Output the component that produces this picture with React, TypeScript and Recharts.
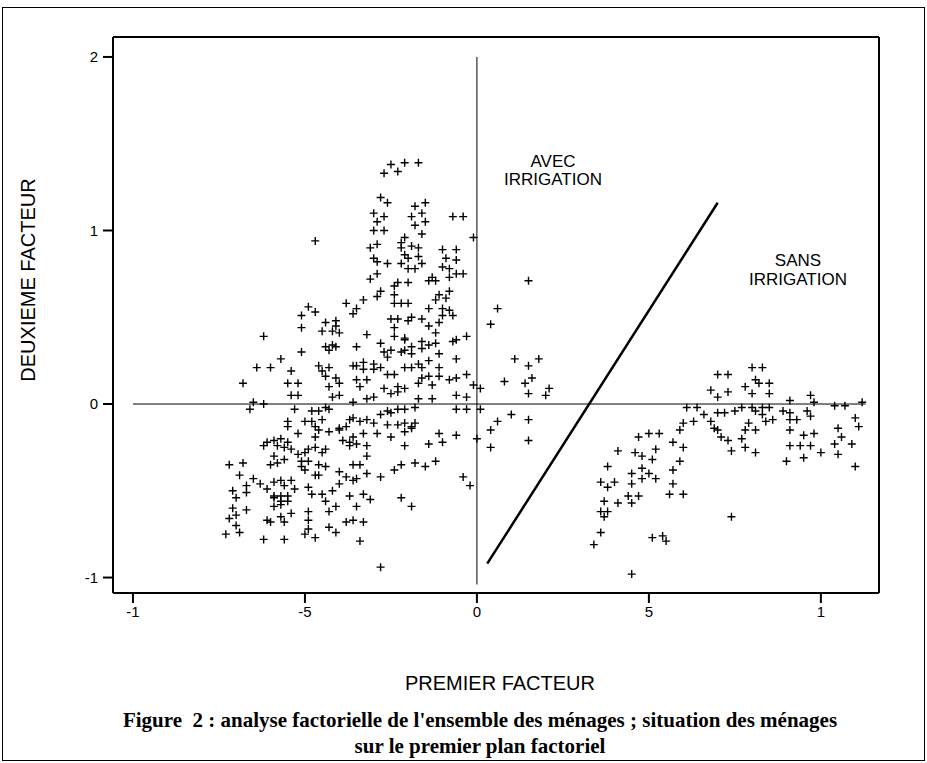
import React from 'react';
import { ScatterChart, Scatter, XAxis, YAxis, ReferenceLine } from 'recharts';

// ticks of the two axes, and the way they are printed on the figure
const xTicks = [-1, -0.5, 0, 0.5, 1];
const xTickLabels = ['-1', '-5', '0', '5', '1'];
const yTicks = [-1, 0, 1, 2];
const yTickLabels = ['-1', '0', '1', '2'];

// menages avec irrigation, haut du nuage
const avecHaut: [number, number][] = [
  [-0.27, 1.33], [-0.25, 1.38], [-0.23, 1.34], [-0.21, 1.39], [-0.17, 1.39],
  [-0.28, 1.19], [-0.26, 1.16], [-0.30, 1.10], [-0.27, 1.08], [-0.29, 1.05], [-0.30, 1.00], [-0.27, 1.00],
  [-0.18, 1.14], [-0.15, 1.16], [-0.19, 1.08], [-0.16, 1.10], [-0.18, 1.03], [-0.15, 1.05], [-0.16, 0.98],
  [-0.07, 1.08], [-0.04, 1.08], [-0.01, 0.96], [-0.47, 0.94],
  [-0.31, 0.90], [-0.29, 0.92], [-0.30, 0.84], [-0.29, 0.82], [-0.26, 0.81], [-0.22, 0.93], [-0.21, 0.96],
  [-0.22, 0.90], [-0.21, 0.86], [-0.20, 0.84], [-0.19, 0.91], [-0.17, 0.90], [-0.17, 0.85], [-0.22, 0.81],
  [-0.20, 0.78], [-0.18, 0.78], [-0.16, 0.81],
  [-0.10, 0.89], [-0.06, 0.89], [-0.09, 0.84], [-0.06, 0.83], [-0.10, 0.79], [-0.08, 0.78], [-0.06, 0.75],
  [-0.04, 0.75], [-0.08, 0.73], [-0.13, 0.73], [-0.12, 0.71], [-0.14, 0.71], [-0.31, 0.72], [-0.29, 0.75],
  [-0.23, 0.70], [-0.20, 0.70], [-0.24, 0.68],
];

// menages avec irrigation, coeur du nuage
const avecCentre: [number, number][] = [
  [-0.28, 0.65], [-0.24, 0.63], [-0.29, 0.62],
  [-0.11, 0.63], [-0.08, 0.65], [-0.09, 0.61], [-0.12, 0.60],
  [-0.38, 0.58], [-0.33, 0.60], [-0.35, 0.55], [-0.36, 0.52],
  [-0.24, 0.58], [-0.22, 0.58], [-0.20, 0.58],
  [-0.49, 0.56], [-0.51, 0.51], [-0.47, 0.53], [-0.51, 0.44],
  [-0.14, 0.55], [-0.10, 0.55], [-0.08, 0.54], [-0.07, 0.51], [-0.10, 0.51],
  [-0.25, 0.49], [-0.23, 0.49], [-0.19, 0.50], [-0.16, 0.49], [-0.20, 0.48], [-0.24, 0.44],
  [-0.14, 0.45], [-0.11, 0.47], [-0.12, 0.41],
  [-0.44, 0.47], [-0.41, 0.48], [-0.45, 0.42], [-0.42, 0.42], [-0.40, 0.41], [-0.41, 0.45],
  [-0.32, 0.40], [-0.24, 0.39], [-0.21, 0.38], [-0.21, 0.37],
  [-0.62, 0.39],
  [-0.07, 0.36], [-0.03, 0.39], [-0.06, 0.37],
  [-0.35, 0.33], [-0.28, 0.35], [-0.27, 0.30], [-0.25, 0.31], [-0.26, 0.27], [-0.22, 0.30], [-0.21, 0.31],
  [-0.19, 0.33], [-0.19, 0.29], [-0.16, 0.36], [-0.16, 0.32], [-0.14, 0.34], [-0.12, 0.35], [-0.11, 0.29], [-0.14, 0.25],
  [-0.44, 0.33], [-0.42, 0.34], [-0.43, 0.31], [-0.41, 0.33],
  [-0.51, 0.30], [-0.57, 0.26], [-0.64, 0.21], [-0.60, 0.21],
  [-0.54, 0.19], [-0.55, 0.12], [-0.52, 0.12], [-0.54, 0.05], [-0.52, 0.05],
  [-0.68, 0.12],
  [-0.46, 0.22], [-0.43, 0.21], [-0.45, 0.19], [-0.44, 0.16], [-0.41, 0.15], [-0.43, 0.10], [-0.40, 0.12],
  [-0.36, 0.22], [-0.35, 0.22], [-0.33, 0.24], [-0.33, 0.20], [-0.30, 0.23], [-0.28, 0.21], [-0.30, 0.20],
  [-0.26, 0.17], [-0.24, 0.17], [-0.35, 0.14], [-0.32, 0.14], [-0.34, 0.10],
  [-0.21, 0.21], [-0.19, 0.21], [-0.17, 0.23], [-0.16, 0.21], [-0.11, 0.21],
  [-0.17, 0.12], [-0.16, 0.15], [-0.14, 0.16], [-0.11, 0.16], [-0.08, 0.14], [-0.06, 0.15], [-0.13, 0.11], [-0.03, 0.17],
  [-0.27, 0.09], [-0.23, 0.10], [-0.21, 0.09], [-0.25, 0.06], [-0.23, 0.07],
  [-0.06, 0.26], [-0.01, 0.11], [0.01, 0.09], [-0.06, 0.05], [-0.03, 0.04],
  [-0.17, 0.03], [-0.13, 0.03], [-0.42, 0.04], [-0.40, 0.05],
  [-0.36, 0.01], [-0.32, 0.03], [-0.30, 0.04],
  [-0.65, 0.01], [-0.66, -0.03], [-0.62, 0.00], [-0.53, -0.03],
  [-0.48, -0.04], [-0.46, -0.04], [-0.43, -0.03], [-0.44, -0.02],
  [-0.28, -0.06], [-0.26, -0.04], [-0.25, -0.05], [-0.23, -0.03], [-0.21, -0.03], [-0.18, -0.02],
  [-0.06, -0.03], [-0.03, -0.03], [0.01, -0.03],
  [-0.50, -0.10], [-0.48, -0.10], [-0.45, -0.09], [-0.47, -0.13], [-0.55, -0.13], [-0.55, -0.10],
  [-0.37, -0.09], [-0.36, -0.08], [-0.34, -0.10], [-0.32, -0.09], [-0.30, -0.11], [-0.38, -0.13], [-0.40, -0.14],
  [-0.26, -0.12], [-0.23, -0.12], [-0.21, -0.11], [-0.19, -0.13], [-0.18, -0.11], [-0.19, -0.14],
  [-0.46, -0.15], [-0.43, -0.16], [-0.40, -0.15], [-0.52, -0.17], [-0.47, -0.19],
  [-0.29, -0.17], [-0.25, -0.19], [-0.21, -0.16],
  [-0.11, -0.17], [-0.06, -0.18], [-0.10, -0.22], [-0.14, -0.23], [0.00, -0.20],
  [-0.61, -0.22], [-0.59, -0.21], [-0.57, -0.20], [-0.55, -0.22], [-0.62, -0.24], [-0.58, -0.24], [-0.56, -0.25], [-0.54, -0.26],
  [-0.39, -0.21], [-0.37, -0.22], [-0.36, -0.19], [-0.33, -0.17], [-0.35, -0.23], [-0.32, -0.24], [-0.37, -0.24],
  [-0.21, -0.24],
  [-0.49, -0.26], [-0.47, -0.25], [-0.44, -0.26], [-0.50, -0.28], [-0.45, -0.28],
  [-0.52, -0.29], [-0.51, -0.33], [-0.49, -0.33], [-0.51, -0.36], [-0.50, -0.38], [-0.47, -0.41], [-0.46, -0.41],
  [-0.46, -0.35], [-0.44, -0.36],
  [-0.59, -0.30], [-0.56, -0.32], [-0.58, -0.34], [-0.60, -0.35],
  [-0.32, -0.30],
  [-0.72, -0.35], [-0.68, -0.34], [-0.69, -0.41],
  [-0.65, -0.43], [-0.63, -0.46], [-0.61, -0.49], [-0.59, -0.45], [-0.57, -0.44], [-0.54, -0.44], [-0.56, -0.47], [-0.53, -0.49],
  [-0.59, -0.53], [-0.57, -0.53], [-0.55, -0.53], [-0.59, -0.54], [-0.57, -0.56], [-0.55, -0.56], [-0.59, -0.59], [-0.57, -0.58],
  [-0.67, -0.47], [-0.67, -0.51], [-0.71, -0.50], [-0.70, -0.54],
  [-0.36, -0.35], [-0.34, -0.35], [-0.32, -0.40], [-0.40, -0.39], [-0.38, -0.42], [-0.36, -0.44], [-0.35, -0.43], [-0.40, -0.46],
  [-0.42, -0.50], [-0.45, -0.52], [-0.48, -0.52], [-0.49, -0.48],
  [-0.28, -0.42],
  [-0.24, -0.38], [-0.22, -0.35], [-0.18, -0.34], [-0.15, -0.36], [-0.12, -0.33],
  [-0.04, -0.42], [-0.02, -0.47],
  [-0.37, -0.53], [-0.33, -0.52], [-0.31, -0.55], [-0.35, -0.59],
  [-0.44, -0.56], [-0.41, -0.59], [-0.43, -0.62], [-0.49, -0.62], [-0.49, -0.67],
  [-0.22, -0.54], [-0.19, -0.59],
  [-0.71, -0.60], [-0.67, -0.61], [-0.72, -0.66], [-0.70, -0.64],
  [-0.61, -0.67], [-0.60, -0.68], [-0.57, -0.65], [-0.56, -0.68], [-0.54, -0.63],
  [-0.38, -0.68], [-0.36, -0.67], [-0.33, -0.68],
  [-0.70, -0.70], [-0.69, -0.74], [-0.73, -0.75],
  [-0.62, -0.78], [-0.56, -0.78],
  [-0.50, -0.75], [-0.49, -0.72], [-0.47, -0.77],
  [-0.43, -0.71], [-0.41, -0.74],
  [-0.34, -0.79], [-0.28, -0.94],
];

// menages avec irrigation, a droite de l'axe vertical
const avecDroite: [number, number][] = [
  [0.15, 0.71], [0.06, 0.55], [0.04, 0.46], [0.11, 0.26], [0.18, 0.26], [0.15, 0.22],
  [0.16, 0.15], [0.14, 0.12], [0.15, 0.06], [0.08, 0.13], [0.21, 0.09], [0.20, 0.05],
  [0.10, -0.06], [0.06, -0.10], [0.04, -0.15], [0.04, -0.25], [0.15, -0.09], [0.15, -0.21],
];

// menages sans irrigation
const sansIrrigation: [number, number][] = [
  [0.80, 0.21], [0.83, 0.21], [0.70, 0.17], [0.73, 0.17], [0.78, 0.10], [0.81, 0.14], [0.82, 0.12],
  [0.85, 0.12], [0.80, 0.06], [0.85, 0.06], [0.68, 0.08], [0.70, 0.04], [0.73, 0.07],
  [0.91, 0.02], [0.97, 0.05], [0.98, 0.01], [1.12, 0.01], [1.04, -0.01], [1.07, -0.01],
  [0.61, -0.02], [0.64, -0.02], [0.66, -0.06], [0.70, -0.05], [0.72, -0.05], [0.75, -0.04], [0.77, -0.02],
  [0.80, -0.02], [0.83, -0.02], [0.85, -0.02], [0.81, -0.04], [0.83, -0.06], [0.86, -0.09], [0.84, -0.10], [0.79, -0.11],
  [0.89, -0.04], [0.91, -0.05], [0.91, -0.09], [0.93, -0.09], [0.96, -0.04], [0.97, -0.07], [1.10, -0.08], [1.11, -0.13],
  [0.60, -0.11], [0.63, -0.10], [0.59, -0.15], [0.68, -0.10], [0.69, -0.14], [0.70, -0.15], [0.71, -0.19],
  [0.73, -0.21], [0.74, -0.27],
  [0.78, -0.15], [0.81, -0.15], [0.77, -0.20], [0.78, -0.25], [0.81, -0.28],
  [0.91, -0.15], [0.95, -0.18], [0.98, -0.17], [0.91, -0.24], [0.94, -0.24], [0.97, -0.24], [1.00, -0.28],
  [0.95, -0.31], [0.90, -0.33],
  [1.05, -0.14], [1.06, -0.19], [1.04, -0.23], [1.09, -0.23], [1.05, -0.29], [1.10, -0.36],
  [0.47, -0.19], [0.50, -0.17], [0.53, -0.17], [0.41, -0.27], [0.46, -0.28], [0.48, -0.30], [0.52, -0.26], [0.51, -0.32],
  [0.57, -0.22], [0.60, -0.25], [0.59, -0.33], [0.57, -0.38], [0.57, -0.46], [0.56, -0.52], [0.60, -0.52],
  [0.38, -0.36], [0.36, -0.45], [0.38, -0.48], [0.40, -0.45], [0.45, -0.40], [0.48, -0.37], [0.48, -0.43],
  [0.45, -0.46], [0.50, -0.40], [0.52, -0.43],
  [0.37, -0.56], [0.36, -0.62], [0.38, -0.62], [0.37, -0.65], [0.41, -0.57], [0.44, -0.53], [0.47, -0.53], [0.45, -0.57],
  [0.36, -0.74], [0.34, -0.81], [0.51, -0.77], [0.54, -0.76], [0.55, -0.79], [0.74, -0.65], [0.45, -0.98],
];

// axes traces dans le plan et droite de separation
const axeHorizontal = [{ x: -1.0, y: 0 }, { x: 1.13, y: 0 }];
const axeVertical = [{ x: 0, y: -1.04 }, { x: 0, y: 2.0 }];
const separation = [{ x: 0.03, y: -0.92 }, { x: 0.7, y: 1.16 }];

const toPoints = (list: [number, number][]) => list.map(([x, y]) => ({ x, y }));

// marqueur en croix
const Croix = (props: any) => {
  const { cx, cy } = props;
  if (cx == null || cy == null) return null;
  return (
    <path
      d={`M${cx - 4},${cy}H${cx + 4}M${cx},${cy - 4}V${cy + 4}`}
      stroke="#000"
      strokeWidth={1.4}
      fill="none"
    />
  );
};

const sans = '"Liberation Sans", Arial, Helvetica, sans-serif';
const axisStroke = { stroke: '#000', strokeWidth: 2 };
const tickText = { fill: '#000', fontSize: 15, fontFamily: sans };

export default function App() {
  return (
    <div style={{ position: 'absolute', left: 0, top: 0, width: 927, height: 763, background: '#fff', fontFamily: sans }}>
      <div
        style={{
          position: 'absolute', left: 2, top: 7, width: 923, height: 754,
          border: '1.5px solid #000', boxSizing: 'border-box',
        }}
      />
      <div style={{ position: 'absolute', left: 0, top: 0 }}>
        <ScatterChart width={927} height={763} margin={{ top: 27, right: 28, bottom: 140, left: 83 }}>
          <XAxis
            xAxisId="bottom"
            type="number"
            dataKey="x"
            domain={[-1.058, 1.169]}
            ticks={xTicks}
            tickFormatter={(v: number) => xTickLabels[xTicks.indexOf(v)]}
            tickSize={10}
            tickMargin={3}
            height={30}
            axisLine={axisStroke}
            tickLine={axisStroke}
            tick={tickText}
            allowDataOverflow
          />
          <XAxis
            xAxisId="top"
            orientation="top"
            type="number"
            domain={[-1.058, 1.169]}
            ticks={xTicks}
            tickSize={10}
            height={10}
            axisLine={axisStroke}
            tickLine={axisStroke}
            tick={false}
            allowDataOverflow
          />
          <YAxis
            yAxisId="left"
            type="number"
            dataKey="y"
            domain={[-1.089, 2.115]}
            ticks={yTicks}
            tickFormatter={(v: number) => yTickLabels[yTicks.indexOf(v)]}
            tickSize={10}
            tickMargin={5}
            width={30}
            axisLine={axisStroke}
            tickLine={axisStroke}
            tick={tickText}
            allowDataOverflow
          />
          <YAxis
            yAxisId="right"
            orientation="right"
            type="number"
            domain={[-1.089, 2.115]}
            ticks={yTicks}
            tickSize={10}
            width={20}
            axisLine={axisStroke}
            tickLine={axisStroke}
            tick={false}
            allowDataOverflow
          />
          <ReferenceLine xAxisId="bottom" yAxisId="left" segment={axeHorizontal} stroke="#000" strokeWidth={1} />
          <ReferenceLine xAxisId="bottom" yAxisId="left" segment={axeVertical} stroke="#000" strokeWidth={1} />
          <ReferenceLine xAxisId="bottom" yAxisId="left" segment={separation} stroke="#000" strokeWidth={2.5} />
          <Scatter xAxisId="bottom" yAxisId="left" data={toPoints(avecHaut)} shape={Croix} isAnimationActive={false} />
          <Scatter xAxisId="bottom" yAxisId="left" data={toPoints(avecCentre)} shape={Croix} isAnimationActive={false} />
          <Scatter xAxisId="bottom" yAxisId="left" data={toPoints(avecDroite)} shape={Croix} isAnimationActive={false} />
          <Scatter xAxisId="bottom" yAxisId="left" data={toPoints(sansIrrigation)} shape={Croix} isAnimationActive={false} />
        </ScatterChart>
      </div>

      <div style={{ position: 'absolute', left: 453, top: 153, width: 200, textAlign: 'center', fontSize: 17, lineHeight: '18px' }}>
        AVEC<br />IRRIGATION
      </div>
      <div style={{ position: 'absolute', left: 698, top: 251, width: 200, textAlign: 'center', fontSize: 17, lineHeight: '19px' }}>
        SANS<br />IRRIGATION
      </div>

      <div
        style={{
          position: 'absolute', left: 28 - 150, top: 280 - 12, width: 300, height: 24, lineHeight: '24px',
          textAlign: 'center', fontSize: 20, transform: 'rotate(-90deg)',
        }}
      >
        DEUXIEME FACTEUR
      </div>
      <div style={{ position: 'absolute', left: 350, top: 671, width: 300, textAlign: 'center', fontSize: 20, lineHeight: '24px' }}>
        PREMIER FACTEUR
      </div>

      <div
        style={{
          position: 'absolute', left: 30, top: 707, width: 900, textAlign: 'center',
          fontFamily: '"Liberation Serif", "Times New Roman", serif', fontWeight: 'bold',
          fontSize: 21, lineHeight: '26px', whiteSpace: 'pre',
        }}
      >
        {'Figure  2 : analyse factorielle de l\'ensemble des ménages ; situation des ménages'}
        <br />
        sur le premier plan factoriel
      </div>
    </div>
  );
}
